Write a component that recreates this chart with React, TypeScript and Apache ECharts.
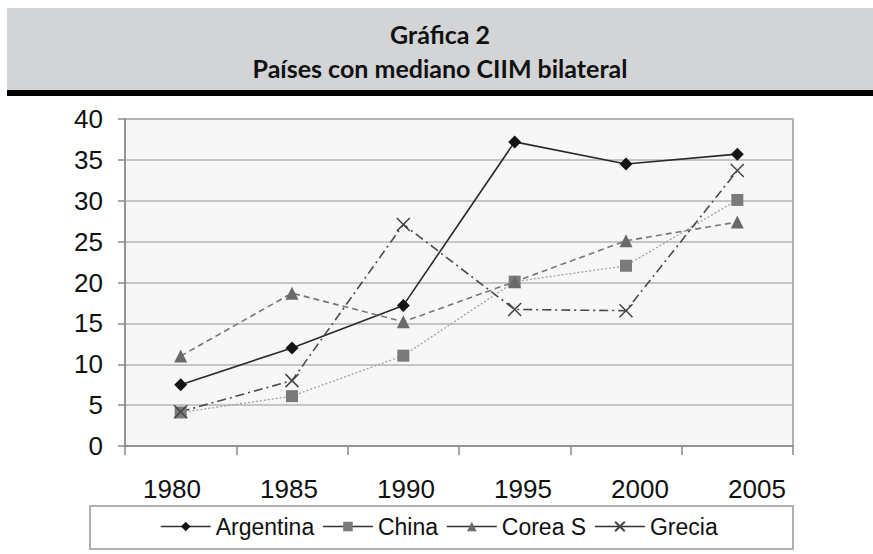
import React, { useEffect, useRef } from "react";
import * as echarts from "echarts";

const categories = ["1980", "1985", "1990", "1995", "2000", "2005"];
const argentina = [7.5, 12, 17.2, 37.2, 34.5, 35.7];
const china = [4.1, 6.1, 11.05, 20.1, 22.05, 30.1];
const coreaS = [11, 18.7, 15.2, 20.1, 25.1, 27.4];
const grecia = [4.2, 8, 27.1, 16.7, 16.55, 33.7];
const yTicks = { min: 0, max: 40, interval: 5 };
const titleLine1 = "Gráfica 2";
const titleLine2 = "Países con mediano CIIM bilateral";

const FONT = "Liberation Sans";
const TITLE_FONT = "Lato";

export default function App() {
  const ref = useRef<HTMLDivElement>(null);
  useEffect(() => {
    if (!ref.current) return;
    const chart = echarts.init(ref.current, undefined, { renderer: "svg" });
    const crossPath = "path://M0,0L10,10M10,0L0,10";
    chart.setOption({
      animation: false,
      backgroundColor: "#ffffff",
      textStyle: { fontFamily: FONT },
      graphic: [
        { type: "rect", shape: { x: 7, y: 8, width: 866, height: 82 }, style: { fill: "#d3d4d6" }, silent: true },
        { type: "rect", shape: { x: 7, y: 90, width: 866, height: 6 }, style: { fill: "#000000" }, silent: true },
        {
          type: "text", x: 440, y: 34,
          style: { text: titleLine1, font: `bold 25px ${TITLE_FONT}`, fill: "#111", textAlign: "center", textVerticalAlign: "middle" },
        },
        {
          type: "text", x: 440, y: 68,
          style: { text: titleLine2, font: `bold 25px ${TITLE_FONT}`, fill: "#111", textAlign: "center", textVerticalAlign: "middle" },
        },
        {
          type: "rect", z: -1, shape: { x: 90, y: 506, width: 703, height: 43 },
          style: { fill: "#ffffff", stroke: "#b0b0b0", lineWidth: 2 }, silent: true,
        },
      ],
      grid: [
        { left: 125, top: 119, width: 668, height: 327, show: true, backgroundColor: "#f7f7f7", borderColor: "#9a9a9a", borderWidth: 1.5 },
        { left: 113.5, top: 119, width: 702, height: 327, show: false },
      ],
      xAxis: [
        {
          type: "category", gridIndex: 0, data: categories, boundaryGap: true,
          axisLine: { lineStyle: { color: "#8a8a8a", width: 1.5 } },
          axisTick: { show: true, length: 9, lineStyle: { color: "#8a8a8a", width: 1.5 } },
          axisLabel: { show: false },
          splitLine: { show: false },
        },
        {
          type: "category", gridIndex: 1, data: categories, boundaryGap: true,
          axisLine: { show: false }, axisTick: { show: false }, splitLine: { show: false },
          axisLabel: { show: true, margin: 30, fontSize: 26, fontFamily: FONT, color: "#111" },
        },
      ],
      yAxis: [
        {
          type: "value", gridIndex: 0, min: yTicks.min, max: yTicks.max, interval: yTicks.interval,
          axisLine: { show: true, lineStyle: { color: "#8a8a8a", width: 1.5 } },
          axisTick: { show: true, length: 7, lineStyle: { color: "#8a8a8a", width: 1.5 } },
          axisLabel: { margin: 22, fontSize: 26, fontFamily: FONT, color: "#111" },
          splitLine: { show: true, lineStyle: { color: "#b4b4b4", width: 1.5 } },
        },
        { type: "value", gridIndex: 1, show: false, min: 0, max: 40 },
      ],
      legend: {
        left: 160, top: 515, padding: 0,
        itemWidth: 50, itemHeight: 12, itemGap: 8,
        textStyle: { fontSize: 23, fontFamily: FONT, color: "#111", padding: [0, 0, 0, 0] },
        lineStyle: { type: "solid", width: 1.5, color: "#333" },
        data: ["Argentina", "China", "Corea S", "Grecia"],
      },
      series: [
        {
          name: "Argentina", type: "line", data: argentina,
          symbol: "diamond", symbolSize: 13,
          lineStyle: { color: "#2a2a2a", width: 1.6, type: "solid" },
          itemStyle: { color: "#151515" },
        },
        {
          name: "China", type: "line", data: china,
          symbol: "rect", symbolSize: 12,
          lineStyle: { color: "#a0a0a0", width: 1.3, type: [2, 2] },
          itemStyle: { color: "#7a7a7a" },
        },
        {
          name: "Corea S", type: "line", data: coreaS,
          symbol: "triangle", symbolSize: 13,
          lineStyle: { color: "#777777", width: 1.6, type: [6, 4] },
          itemStyle: { color: "#6a6a6a" },
        },
        {
          name: "Grecia", type: "line", data: grecia,
          symbol: crossPath, symbolSize: 13,
          lineStyle: { color: "#4a4a4a", width: 1.6, type: [9, 4, 2, 4] },
          itemStyle: { color: "rgba(0,0,0,0)", borderColor: "#444", borderWidth: 1.5 },
        },
      ],
    });
    return () => chart.dispose();
  }, []);
  return <div ref={ref} style={{ position: "absolute", left: 0, top: 0, width: 873, height: 554 }} />;
}
